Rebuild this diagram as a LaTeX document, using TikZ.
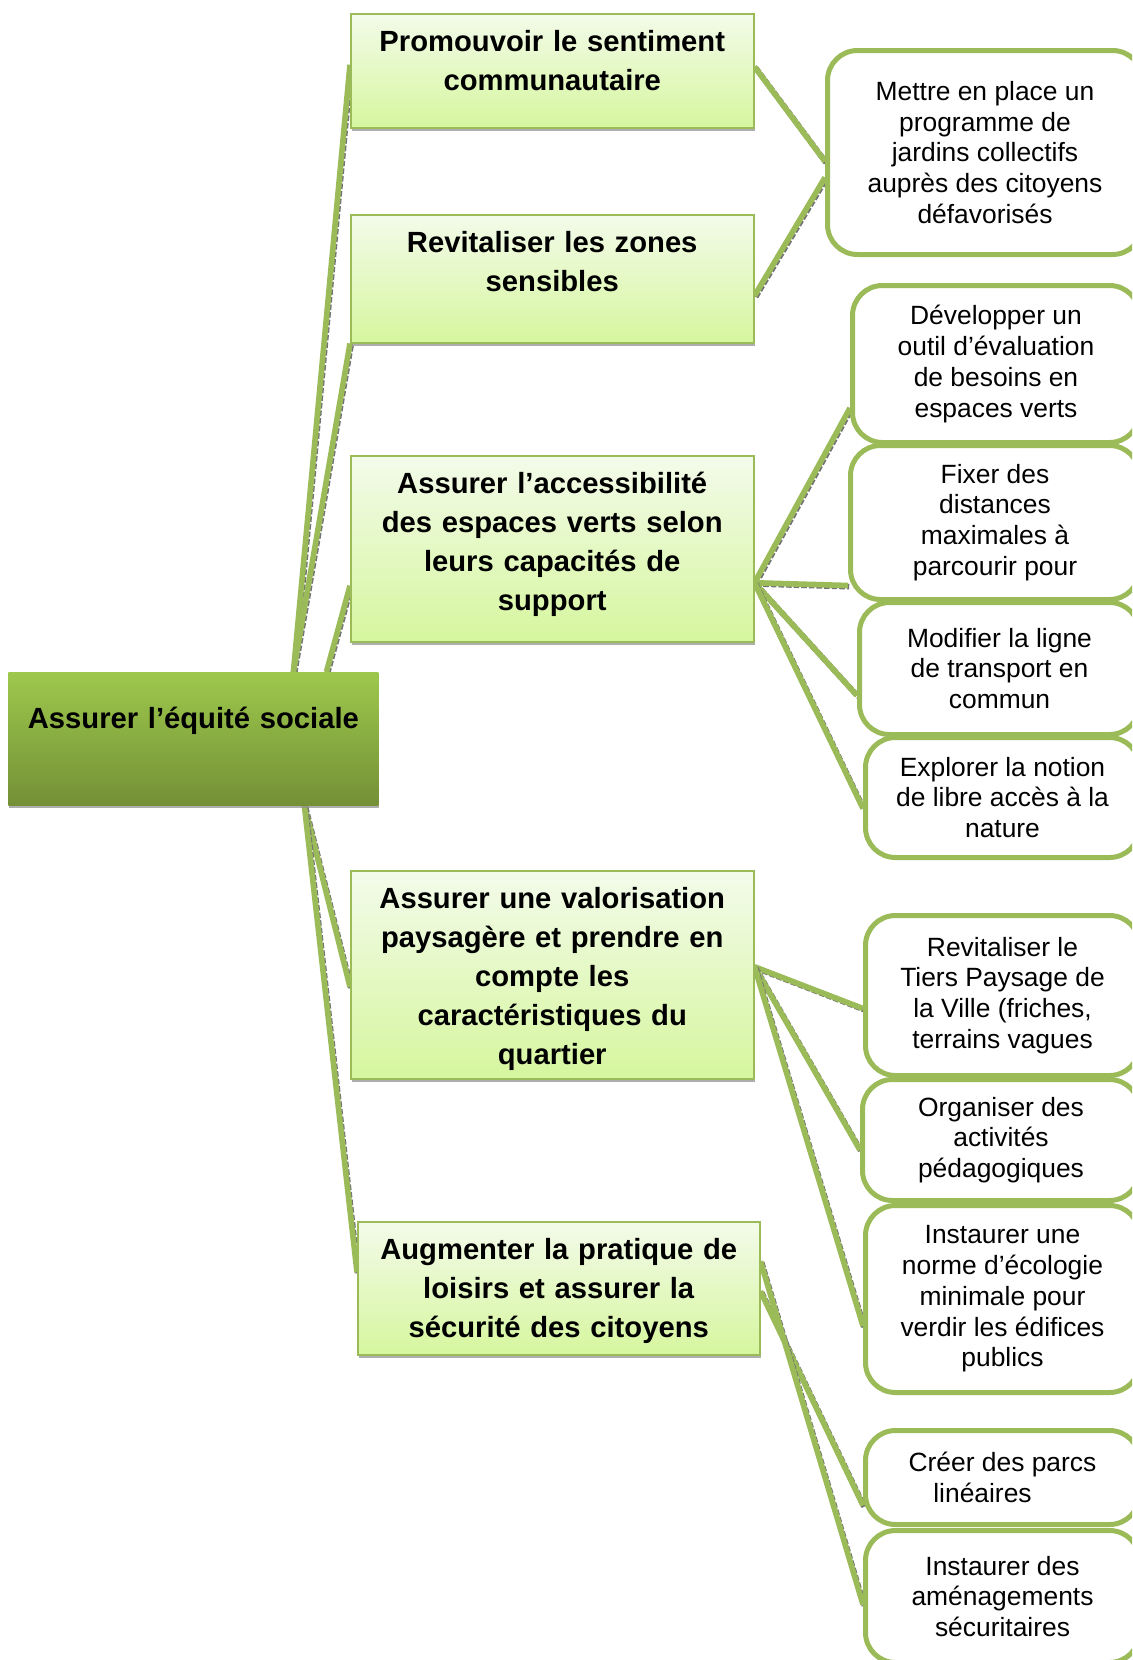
\documentclass[tikz,border=0pt]{standalone}
\usepackage{fontspec}
\setmainfont{Liberation Sans}
\usetikzlibrary{calc,backgrounds,shadows}
\definecolor{leaf}{RGB}{155,187,89}
\definecolor{roottop}{RGB}{157,200,76}
\definecolor{rootbot}{RGB}{116,144,54}
\definecolor{paletop}{RGB}{243,251,234}
\definecolor{palebot}{RGB}{214,246,158}

\begin{document}
\begin{tikzpicture}[x=0.5pt,y=-0.5pt,
    rootbox/.style={anchor=north west,inner sep=0pt,text width=185pt,align=center,
      top color=roottop,bottom color=rootbot,font=\fontsize{14.6}{19.5}\selectfont\bfseries,
      drop shadow={shadow xshift=0.5pt,shadow yshift=-1.5pt,fill=black!45,opacity=.7}},
    goal/.style={anchor=north west,inner sep=0pt,text width=201.5pt,align=center,
      draw=leaf,line width=0.75pt,top color=paletop,bottom color=palebot,text height=19pt,
      font=\fontsize{14.6}{19.5}\selectfont\bfseries,
      drop shadow={shadow xshift=0.5pt,shadow yshift=-1.5pt,fill=black!45,opacity=.7}},
    action/.style={anchor=north west,inner sep=0pt,align=center,draw=leaf,line width=2.5pt,
      rounded corners=15pt,fill=white,font=\fontsize{13.2}{15.35}\selectfont},
    link/.style={leaf,line width=2.8pt,
      preaction={draw=black!55,line width=2.8pt,densely dotted,
        transform canvas={xshift=0.6pt,yshift=-0.6pt}}}]
  \useasboundingbox (0,0) rectangle (1132,1660);
  \clip (0,0) rectangle (1132,1660);
  % main goal
  \node[rootbox,text height=28pt,text depth=38.5pt] (root) at (8,672) {Assurer l’équité sociale};
  % objectives
  \node[goal,text depth=38pt] (m1) at (350,13) {Promouvoir le sentiment\\communautaire};
  \node[goal,text depth=45pt] (m2) at (350,214) {Revitaliser les zones\\sensibles};
  \node[goal,text depth=74pt] (m3) at (350,455) {Assurer l’accessibilité\\des espaces verts selon\\leurs capacités de\\support};
  \node[goal,text depth=85pt] (m4) at (350,870) {Assurer une valorisation\\paysagère et prendre en\\compte les\\caractéristiques du\\quartier};
  \node[goal,text depth=47.5pt,text width=201pt] (m5) at (357,1221) {Augmenter la pratique de\\loisirs et assurer la\\sécurité des citoyens};
  % actions
  \node[action,minimum width=157.5pt,minimum height=102pt] (r1) at (825,48) {Mettre en place un\\programme de\\jardins collectifs\\auprès des citoyens\\défavorisés};
  \node[action,minimum width=143.5pt,minimum height=78.5pt] (r2) at (850,283) {Développer un\\outil d’évaluation\\de besoins en\\espaces verts};
  \node[action,minimum width=144.5pt,minimum height=77pt] (r3) at (848,443) {Fixer des\\distances\\maximales à\\parcourir pour};
  \node[action,minimum width=140pt,minimum height=66pt] (r4) at (857,600) {Modifier la ligne\\de transport en\\commun};
  \node[action,minimum width=137pt,minimum height=60pt] (r5) at (863,735) {Explorer la notion\\de libre accès à la\\nature};
  \node[action,minimum width=137pt,minimum height=80pt] (r6) at (863,913) {Revitaliser le\\Tiers Paysage de\\la Ville (friches,\\terrains vagues};
  \node[action,minimum width=138.5pt,minimum height=60.5pt] (r7) at (860,1077) {Organiser des\\activités\\pédagogiques};
  \node[action,minimum width=137pt,minimum height=93.5pt] (r8) at (863,1203) {Instaurer une\\norme d’écologie\\minimale pour\\verdir les édifices\\publics};
  \node[action,minimum width=137pt,minimum height=47pt] (r9) at (863,1428) {Créer des parcs\\linéaires\hspace*{20pt}};
  \node[action,minimum width=137pt,minimum height=66pt] (r10) at (863,1528) {Instaurer des\\aménagements\\sécuritaires};
  % connectors
  \begin{scope}[on background layer]
    \draw[link] ($(root.north)+(100,0)$) -- ($(m1.west)+(0,-6)$);
    \draw[link] ($(root.north)+(100,0)$) -- (m2.south west);
    \draw[link] ($(root.north)+(133,0)$) -- ($(m3.west)+(0,37)$);
    \draw[link] ($(root.south)+(111,0)$) -- ($(m4.west)+(0,12)$);
    \draw[link] ($(root.south)+(111,0)$) -- ($(m5.west)+(0,-16)$);
    \draw[link] ($(m1.east)+(0,-4)$) -- ($(r1.west)+(0,9)$);
    \draw[link] ($(m2.east)+(0,17)$) -- ($(r1.west)+(0,25)$);
    \draw[link] ($(m3.east)+(0,34)$) -- ($(r2.west)+(0,44)$);
    \draw[link] ($(m3.east)+(0,34)$) -- ($(r3.west)+(0,63)$);
    \draw[link] ($(m3.east)+(0,34)$) -- ($(r4.west)+(0,27)$);
    \draw[link] ($(m3.east)+(0,34)$) -- ($(r5.west)+(0,11)$);
    \draw[link] ($(m4.east)+(0,-8)$) -- ($(r6.west)+(0,13)$);
    \draw[link] ($(m4.east)+(0,-8)$) -- ($(r7.west)+(0,10)$);
    \draw[link] ($(m4.east)+(0,-8)$) -- ($(r8.west)+(0,27)$);
    \draw[link] ($(m5.east)+(0,3)$) -- ($(r9.west)+(0,28)$);
    \draw[link] ($(m5.east)+(0,-27)$) -- ($(r10.west)+(0,8)$);
  \end{scope}
\end{tikzpicture}
\end{document}
